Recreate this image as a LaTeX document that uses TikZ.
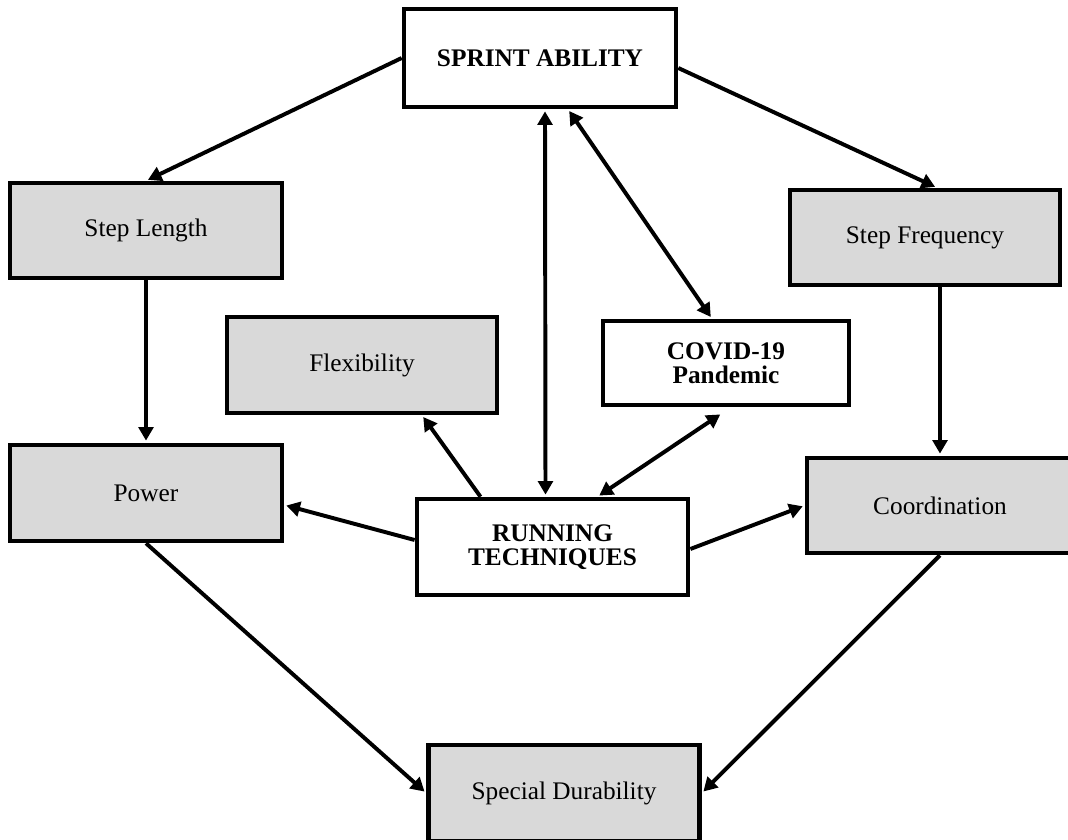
\documentclass[tikz,border=0pt]{standalone}
\usepackage{fontspec}
\setmainfont{Liberation Serif}
\usetikzlibrary{arrows.meta,calc}
\definecolor{boxgray}{HTML}{D9D9D9}

\begin{document}
\begin{tikzpicture}[x=0.025cm,y=-0.025cm,
        factor/.style={draw,line width=3.2pt,fill=boxgray,inner sep=0pt,align=center,
            minimum width=6.8cm,minimum height=2.4cm,font=\fontsize{18}{17}\selectfont},
        mainbox/.style={factor,fill=white,font=\fontsize{18}{17}\selectfont\bfseries},
        link/.style={line width=2.8pt,shorten >=1.5pt,-{Triangle[length=3.4mm,width=3.7mm]}},
        twoway/.style={link,shorten <=1.5pt,{Triangle[length=3.4mm,width=3.7mm]}-{Triangle[length=3.4mm,width=3.7mm]}}]
        \useasboundingbox (0,0) rectangle (1068,840);

        % boxes
        \node[mainbox,minimum height=2.45cm] (sprint) at (540,58) {SPRINT ABILITY};
        \node[factor,minimum height=2.375cm] (steplen) at (146,230.5) {Step Length};
        \node[factor,minimum width=6.75cm,minimum height=2.375cm] (stepfreq) at (925,237.5) {Step Frequency};
        \node[factor,minimum width=6.75cm] (flex) at (362,365) {Flexibility};
        \node[mainbox,minimum width=6.15cm,minimum height=2.1cm] (covid) at (726,363) {COVID-19\\Pandemic};
        \node[mainbox,minimum width=6.78cm] (running) at (552.5,547) {RUNNING\\TECHNIQUES};
        \node[factor] (power) at (146,493) {Power};
        \node[factor,minimum width=6.65cm,minimum height=2.375cm] (coord) at (940,505.5) {Coordination};
        \node[factor,minimum width=6.78cm] (special) at (564,793) {Special Durability};

        % connectors
        \draw[link] (sprint.west) -- (steplen.north);
        \draw[link] ($(sprint.east)+(0,10)$) -- ($(stepfreq.north)+(12,0)$);
        \draw[link] (steplen.south) -- (power.north);
        \draw[link] ($(stepfreq.south)+(15,0)$) -- ($(coord.north)+(0,0)$);
        \draw[twoway] ($(running.north)+(-7,0)$) -- ($(sprint.south)+(5,0)$);
        \draw[twoway] ($(sprint.south)+(28,0)$) -- ($(covid.north)+(-14,0)$);
        \draw[twoway] ($(running.north)+(45,0)$) -- ($(covid.south)+(-4,6)$);
        \draw[link] ($(running.north)+(-72,0)$) -- ($(flex.south)+(60,0)$);
        \draw[link] ($(running.west)+(0,-7)$) -- ($(power.east)+(0,12)$);
        \draw[link] ($(running.east)+(0,2)$) -- (coord.west);
        \draw[link] (power.south) -- (special.west);
        \draw[link] (coord.south) -- (special.east);
\end{tikzpicture}
\end{document}
